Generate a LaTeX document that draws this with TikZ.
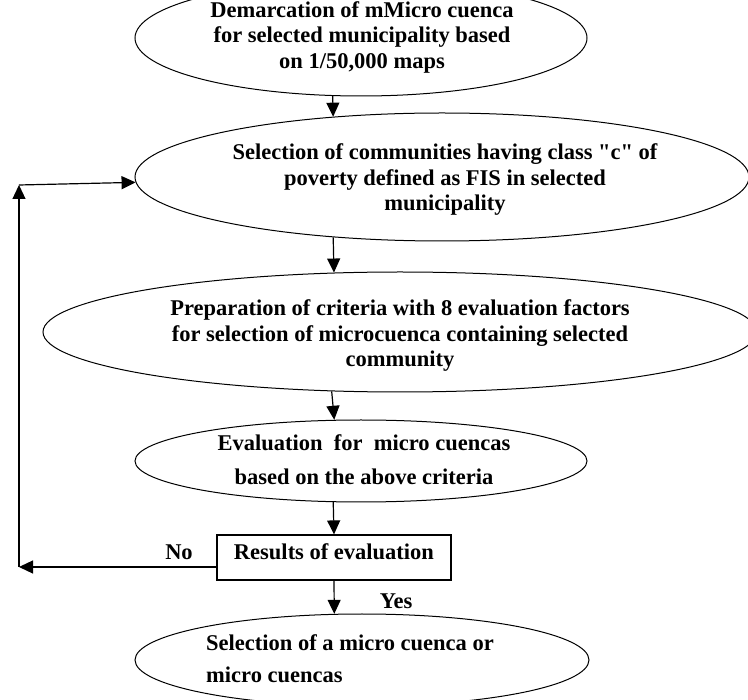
\documentclass[tikz,border=0pt]{standalone}
\usepackage{fontspec}
\setmainfont{Liberation Serif}[Ligatures=TeXOff]
\usetikzlibrary{shapes.geometric,arrows.meta}
\begin{document}
\begin{tikzpicture}[x=1pt,y=-1pt,
  oval/.style={draw, ellipse, inner sep=0pt, line width=1pt},
  box/.style={draw, rectangle, inner sep=0pt, line width=1.2pt},
  txt/.style={font=\bfseries\fontsize{22.5}{25.5}\selectfont, inner sep=0pt},
  arr/.style={line width=1.2pt, -{Triangle[width=13pt,length=14pt]}}]
\useasboundingbox (0,0) rectangle (748,700);
\begin{scope}
\clip (0,0) rectangle (748,700);

% process ovals
\node[oval, minimum width=452pt, minimum height=116pt] (e1) at (361,38) {};
\node[oval, minimum width=614pt, minimum height=128pt] (e2) at (442,177) {};
\node[oval, minimum width=714pt, minimum height=120pt] (e3) at (400,332) {};
\node[oval, minimum width=452pt, minimum height=82pt]  (e4) at (361,461) {};
\node[oval, minimum width=454pt, minimum height=92pt]  (e5) at (362,660) {};

% decision box
\node[box, minimum width=234pt, minimum height=45pt] (r) at (334,557.5) {};

% texts
\node[txt, align=center] (t1) at (362,37)
  {Demarcation of mMicro cuenca\\for selected municipality based\\on 1/50,000 maps};
\node[txt, align=center] (t2) at (445,180)
  {Selection of communities having class "c" of\\poverty defined as FIS in selected\\municipality};
\node[txt, align=center] (t3) at (400,336)
  {Preparation of criteria with 8 evaluation factors\\for selection of microcuenca containing selected\\community};
\node[txt, align=center, font=\bfseries\fontsize{22.5}{34}\selectfont] (t4) at (364,460)
  {Evaluation\ \ for\ \ micro cuencas\\based on the above criteria};
\node[txt, align=left, anchor=west, font=\bfseries\fontsize{22.5}{32}\selectfont] (t5) at (206,659)
  {Selection of a micro cuenca or\\micro cuencas};
\node[txt] (rt) at (334,552) {Results of evaluation};
\node[txt] (no) at (179,552) {No};
\node[txt] (yes) at (396,601) {Yes};

% main flow
\draw[arr] (e1.244.9) -- (e2.151.0);
\draw[arr] (e2.209.0) -- (e3.138.2);
\draw[arr] (e3.221.8) -- (e4.123.6);
\draw[arr] (e4.236.4) -- (r.north);
\draw[arr] (r.south) -- (e5.121.5);

% feedback loop
\coordinate (cb) at (19,567);
\coordinate (ct) at (19,185);
\draw[arr] ([yshift=-9.5pt]r.west) -- (cb);
\draw[arr] (cb) -- (ct);
\draw[arr] (ct) -- (e2.181.5);
\end{scope}
\end{tikzpicture}
\end{document}
